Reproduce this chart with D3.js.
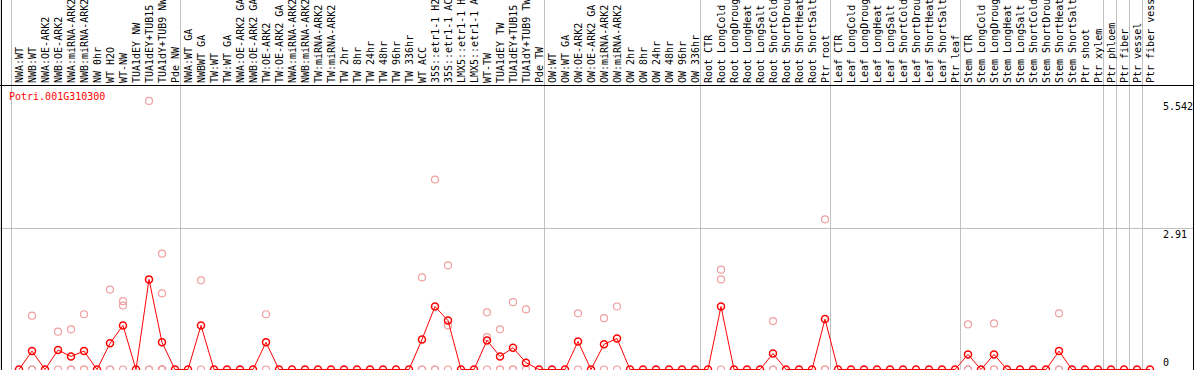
<!DOCTYPE html>
<html>
<head>
<meta charset="utf-8">
<script src="https://cdn.jsdelivr.net/npm/d3@7"></script>
<style>
  body { margin: 0; background: #fff; }
  text { font-family: "DejaVu Sans Mono", monospace; font-size: 10px; }
</style>
</head>
<body>
<div id="chart"></div>
<script>
var geneName = "Potri.001G310300";

var sampleLabels = [
    "NWA:WT", "NWB:WT", "NWA:OE-ARK2", "NWB:OE-ARK2", "NWA:miRNA-ARK2", "NWB:miRNA-ARK2",
    "NW 0hr", "WT H2O", "WT-NW", "TUA1dEY NW", "TUA1dEY+TUB15 NW", "TUA1dY+TUB9 NW", "Pde NW",
    "NWA:WT GA", "NWBWT GA", "TW:WT", "TW:WT GA", "NWA:OE-ARK2 GA", "NWB:OE-ARK2 GA",
    "TW:OE-ARK2", "TW:OE-ARK2 GA", "NWA:miRNA-ARK2", "NWB:miRNA-ARK2", "TW:miRNA-ARK2", "TW:miRNA-ARK2",
    "TW 2hr", "TW 8hr", "TW 24hr", "TW 48hr", "TW 96hr", "TW 336hr", "WT ACC",
    "35S::etr1-1 H2O", "35S::etr1-1 ACC", "LMX5::etr1-1 H2O", "LMX5::etr1-1 ACC",
    "WT-TW", "TUA1dEY TW", "TUA1dEY+TUB15 TW", "TUA1dY+TUB9 TW", "Pde TW",
    "OW:WT", "OW:WT GA", "OW:OE-ARK2", "OW:OE-ARK2 GA", "OW:miRNA-ARK2", "OW:miRNA-ARK2",
    "OW 2hr", "OW 8hr", "OW 24hr", "OW 48hr", "OW 96hr", "OW 336hr",
    "Root CTR", "Root LongCold", "Root LongDrought", "Root LongHeat", "Root LongSalt",
    "Root ShortCold", "Root ShortDrought", "Root ShortHeat", "Root ShortSalt", "Ptr root",
    "Leaf CTR", "Leaf LongCold", "Leaf LongDrought", "Leaf LongHeat", "Leaf LongSalt",
    "Leaf ShortCold", "Leaf ShortDrought", "Leaf ShortHeat", "Leaf ShortSalt", "Ptr leaf",
    "Stem CTR", "Stem LongCold", "Stem LongDrought", "Stem LongHeat", "Stem LongSalt",
    "Stem ShortCold", "Stem ShortDrought", "Stem ShortHeat", "Stem ShortSalt", "Ptr shoot", "Ptr xylem",
    "Ptr phloem", "Ptr fiber", "Ptr vessel", "Ptr fiber vessel"
];

// index of first sample in each group (last entry = end)
var groupStarts = [0, 13, 41, 53, 63, 73, 84, 85, 86, 87, 88];

var meanValues = [
    0, 0.38, 0, 0.40, 0.27, 0.38, 0, 0.54, 0.91, 0, 1.86, 0.56, 0,
    0, 0.91, 0, 0, 0, 0, 0.56, 0, 0, 0, 0, 0, 0, 0, 0, 0, 0, 0, 0.62,
    1.30, 1.01, 0, 0, 0.60, 0.27, 0.45, 0.14, 0,
    0, 0, 0.58, 0, 0.52, 0.64, 0, 0, 0, 0, 0, 0,
    0, 1.30, 0, 0, 0, 0.33, 0, 0, 0, 1.04,
    0, 0, 0, 0, 0, 0, 0, 0, 0, 0,
    0.31, 0, 0.31, 0, 0, 0, 0, 0.38, 0, 0, 0,
    0, 0, 0, 0
];

var replicateValues = [
    [], [1.11, 0, 0], [], [0.78, 0], [0.83, 0, 0], [1.14, 0, 0], [], [1.65, 0, 0], [1.41, 1.32, 0], [],
    [5.542, 0, 0], [2.39, 1.57, 0, 0, 0, 0, 0], [],
    [], [1.84, 0], [], [], [], [], [1.14, 0], [], [], [], [], [], [], [], [], [], [], [], [1.90, 0, 0],
    [3.92, 0, 0], [2.15, 0.91, 0], [], [], [1.18, 0.67, 0], [0.83, 0, 0], [1.39, 0, 0], [1.24, 0], [],
    [], [], [1.16, 0], [], [1.06, 0], [1.30, 0], [], [], [], [], [], [],
    [], [2.06, 1.86, 0], [], [], [], [1.00, 0, 0], [], [], [], [3.10, 0, 0],
    [], [], [], [], [], [], [], [], [], [],
    [0.93, 0, 0], [], [0.95, 0, 0], [], [], [], [], [1.16, 0, 0], [], [], [],
    [], [], [], []
];

var yTickValues = [0, 2.91, 5.542];
var yTickLabels = ["0", "2.91", "5.542"];

var width = 1194, height = 370,
    headerBottom = 85.5, plotBottom = 369.5;

var svg = d3.select("#chart").append("svg")
    .attr("width", width)
    .attr("height", height);

var x = d3.scaleBand()
    .domain(d3.range(sampleLabels.length))
    .range([12.5, 12.5 + 13 * sampleLabels.length]);

var y = d3.scaleLinear()
    .domain([0, 2.91])
    .range([plotBottom, 228.5]);

function cx(i) { return x(i) + x.bandwidth() / 2; }

// horizontal gridline
svg.append("line")
    .attr("x1", 0).attr("x2", width)
    .attr("y1", y(2.91)).attr("y2", y(2.91))
    .attr("stroke", "#c0c0c0");

// group separators
svg.selectAll(".sep")
    .data(groupStarts)
    .enter()
    .append("line")
    .attr("class", "sep")
    .attr("x1", function(d) { return Math.round(x(d) - 2) + 0.5; })
    .attr("x2", function(d) { return Math.round(x(d) - 2) + 0.5; })
    .attr("y1", 0)
    .attr("y2", plotBottom)
    .attr("stroke", "#c0c0c0");

// frame
svg.append("line").attr("x1", 0).attr("x2", width).attr("y1", headerBottom).attr("y2", headerBottom).attr("stroke", "#000");
svg.append("line").attr("x1", 0).attr("x2", x(88) - 2).attr("y1", plotBottom).attr("y2", plotBottom).attr("stroke", "#000");
svg.append("line").attr("x1", 1.5).attr("x2", 1.5).attr("y1", 0).attr("y2", height).attr("stroke", "#000");
svg.append("line").attr("x1", width - 0.5).attr("x2", width - 0.5).attr("y1", 0).attr("y2", height).attr("stroke", "#000");

// sample labels
svg.selectAll(".lbl")
    .data(sampleLabels)
    .enter()
    .append("text")
    .attr("class", "lbl")
    .attr("transform", function(d, i) { return "translate(" + cx(i) + ",83) rotate(-90)"; })
    .attr("dy", "0.35em")
    .attr("text-anchor", "start")
    .attr("fill", "#000")
    .style("white-space", "pre")
    .text(function(d) { return d.slice(0, 14); });

// y tick labels
svg.selectAll(".ytick")
    .data(yTickValues)
    .enter()
    .append("text")
    .attr("class", "ytick")
    .attr("x", 1163)
    .attr("y", function(d) { return Math.min(y(d) + 9, 366); })
    .attr("fill", "#000")
    .text(function(d, i) { return yTickLabels[i]; });

// gene name
svg.append("text")
    .attr("x", 9)
    .attr("y", 100)
    .attr("fill", "#ff0000")
    .text(geneName);

// replicate points
var reps = [];
replicateValues.forEach(function(arr, i) {
    arr.forEach(function(v) { reps.push({ i: i, v: v }); });
});

svg.selectAll(".rep")
    .data(reps)
    .enter()
    .append("circle")
    .attr("class", "rep")
    .attr("cx", function(d) { return cx(d.i); })
    .attr("cy", function(d) { return y(d.v); })
    .attr("r", 3.5)
    .attr("fill", "none")
    .attr("stroke", "#f0a0a0")
    .attr("stroke-width", 1.2);

// mean line
var line = d3.line()
    .x(function(d, i) { return cx(i); })
    .y(function(d) { return y(d); });

svg.append("path")
    .datum(meanValues)
    .attr("d", line)
    .attr("fill", "none")
    .attr("stroke", "#ff0000")
    .attr("stroke-width", 1);

svg.selectAll(".mean")
    .data(meanValues)
    .enter()
    .append("circle")
    .attr("class", "mean")
    .attr("cx", function(d, i) { return cx(i); })
    .attr("cy", function(d) { return y(d); })
    .attr("r", 3.5)
    .attr("fill", "none")
    .attr("stroke", "#ff0000")
    .attr("stroke-width", 1.5);
</script>
</body>
</html>
